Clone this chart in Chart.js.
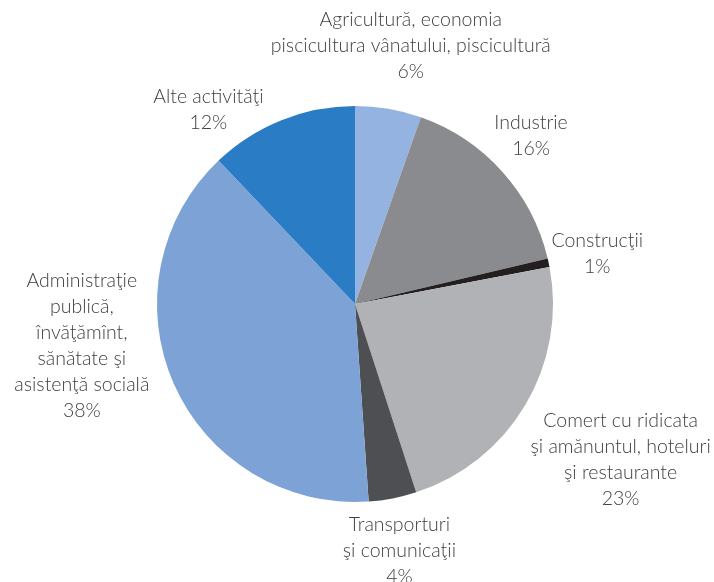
<!DOCTYPE html>
<html>
<head>
<meta charset="utf-8">
<script src="https://cdn.jsdelivr.net/npm/chart.js@4"></script>
<style>
  html, body { margin: 0; padding: 0; background: #fff; }
  #wrap { width: 714px; height: 582px; }
</style>
</head>
<body>
<div id="wrap"><canvas id="pieChart"></canvas></div>
<script>
// categorii (rânduri de text pentru etichete)
const categories = [
    ['Agricultură, economia', 'piscicultura vânatului, piscicultură'],
    ['Industrie'],
    ['Construcţii'],
    ['Comert cu ridicata', 'şi amănuntul, hoteluri', 'şi restaurante'],
    ['Transporturi', 'şi comunicaţii'],
    ['Administraţie', 'publică,', 'învăţămînt,', 'sănătate şi', 'asistenţă socială'],
    ['Alte activităţi']
];
// ponderi citite din unghiurile feliilor
const shares = [5.4, 15.9, 0.7, 23.0, 3.9, 39.0, 12.1];
// procentele afişate pe etichete
const pctLabels = ['6%', '16%', '1%', '23%', '4%', '38%', '12%'];
const colors = ['#95b3e0', '#8a8b8f', '#231f20', '#b1b2b6', '#4e4f52', '#7da2d6', '#2a7dc5'];

const FONT = '300 19.5px "Lato Light", Lato';
const LINE_H = 26;
// deplasări fine ale etichetelor faţă de poziţia calculată
const nudge = [[-3, -15], [-6, -12], [-6, -1], [9, 23], [-6, 4], [-21, -74], [-49, 23]];

const outsideLabels = {
    id: 'outsideLabels',
    afterDatasetsDraw(chart) {
        const ctx = chart.ctx;
        const meta = chart.getDatasetMeta(0);
        ctx.save();
        ctx.font = FONT;
        ctx.fillStyle = '#404040';
        ctx.textAlign = 'center';
        ctx.textBaseline = 'middle';
        meta.data.forEach((arc, i) => {
            const p = arc.getProps(['x', 'y', 'startAngle', 'endAngle', 'outerRadius'], true);
            const mid = (p.startAngle + p.endAngle) / 2;
            const lines = categories[i].concat([pctLabels[i]]);
            const w = Math.max(...lines.map(l => ctx.measureText(l).width));
            const h = lines.length * LINE_H;
            const r = p.outerRadius + 10;
            const ax = p.x + r * Math.cos(mid);
            const ay = p.y + r * Math.sin(mid);
            const cx = ax + Math.cos(mid) * w / 2 + nudge[i][0];
            const cy = ay + Math.sin(mid) * h / 2 + nudge[i][1];
            lines.forEach((l, k) => {
                ctx.fillText(l, cx, cy - h / 2 + LINE_H * (k + 0.5));
            });
        });
        ctx.restore();
    }
};

new Chart(document.getElementById('pieChart'), {
    type: 'pie',
    data: {
        labels: categories.map(c => c.join(' ')),
        datasets: [{
            data: shares,
            backgroundColor: colors,
            borderWidth: 0
        }]
    },
    options: {
        responsive: true,
        maintainAspectRatio: false,
        animation: false,
        layout: { padding: { left: 157, right: 161, top: 106, bottom: 80 } },
        plugins: {
            legend: { display: false },
            tooltip: { enabled: false }
        }
    },
    plugins: [outsideLabels]
});
</script>
</body>
</html>
